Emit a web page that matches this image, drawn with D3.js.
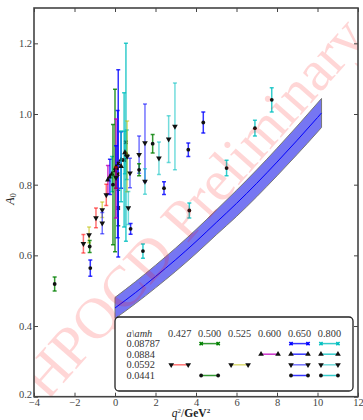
<!DOCTYPE html>
<html><head><meta charset="utf-8">
<script src="https://cdn.jsdelivr.net/npm/d3@7"></script>
<style>body{margin:0;background:#fff}svg{display:block}</style>
</head><body><svg id="c" width="363" height="420"></svg>
<script>
// ---------------- data ----------------
const xTicks = [-4, -2, 0, 2, 4, 6, 8, 10, 12];
const yTicks = [0.2, 0.4, 0.6, 0.8, 1.0, 1.2];
const latticeSpacings = ["0.08787", "0.0884", "0.0592", "0.0441"];
const heavyMasses = ["0.427", "0.500", "0.525", "0.600", "0.650", "0.800"];

// each entry: [q2, A0, error]
const pts_08787_500 = [[0.0, 0.84, 0.23], [0.16, 0.734, 0.05]];
const pts_08787_650 = [[0.16, 0.86, 0.265], [0.13, 0.83, 0.18]];
const pts_08787_800 = [[0.54, 0.92, 0.28], [0.45, 0.87, 0.19]];
const pts_0884_600 = [[-0.35, 0.814, 0.04], [0.05, 0.846, 0.14]];
const pts_0884_650 = [[-0.25, 0.822, 0.05], [0.05, 0.85, 0.06], [0.3, 0.87, 0.08]];
const pts_0884_800 = [[-0.15, 0.83, 0.05], [0.3, 0.852, 0.1], [0.49, 0.891, 0.06], [0.58, 0.885, 0.07]];
const pts_0592_427 = [[-1.56, 0.633, 0.026], [-0.94, 0.706, 0.028], [-0.43, 0.771, 0.03], [0.05, 0.82, 0.03]];
const pts_0592_525 = [[-1.28, 0.658, 0.022], [-0.63, 0.729, 0.022], [0.6, 0.88, 0.1]];
const pts_0592_650 = [[-0.63, 0.691, 0.03], [0.74, 0.833, 0.042], [1.19, 0.885, 0.053], [1.48, 0.918, 0.11]];
const pts_0592_800 = [[0.66, 0.734, 0.047], [1.48, 0.809, 0.036], [2.17, 0.875, 0.046], [2.65, 0.929, 0.066], [2.96, 0.965, 0.123]];
const pts_0441_500 = [[-2.98, 0.519, 0.02], [-1.25, 0.625, 0.017], [-0.1, 0.8, 0.17], [1.19, 0.842, 0.017], [1.86, 0.916, 0.026]];
const pts_0441_650 = [[-1.22, 0.564, 0.023], [0.77, 0.675, 0.015], [2.42, 0.79, 0.018], [3.62, 0.899, 0.019], [4.36, 0.976, 0.03]];
const pts_0441_800 = [[1.38, 0.612, 0.02], [3.67, 0.727, 0.021], [5.51, 0.847, 0.022], [6.91, 0.960, 0.022], [7.74, 1.04, 0.034]];

// fit band
const bandQ2  = [0, 1, 2, 3, 4, 5, 6, 7, 8, 9, 10, 10.2];
const bandMid = [0.451, 0.494, 0.540, 0.588, 0.639, 0.693, 0.747, 0.804, 0.864, 0.926, 0.990, 1.003];
const bandLo  = [0.421, 0.463, 0.508, 0.555, 0.605, 0.658, 0.710, 0.766, 0.825, 0.886, 0.949, 0.962];
const bandHi  = [0.481, 0.525, 0.572, 0.621, 0.673, 0.728, 0.784, 0.842, 0.903, 0.966, 1.031, 1.044];

// series registry (indices into latticeSpacings / heavyMasses)
const seriesDefs = [
  {a: 0, m: 1, pts: pts_08787_500}, {a: 0, m: 4, pts: pts_08787_650}, {a: 0, m: 5, pts: pts_08787_800},
  {a: 1, m: 3, pts: pts_0884_600},  {a: 1, m: 4, pts: pts_0884_650},  {a: 1, m: 5, pts: pts_0884_800},
  {a: 2, m: 0, pts: pts_0592_427},  {a: 2, m: 2, pts: pts_0592_525},  {a: 2, m: 4, pts: pts_0592_650}, {a: 2, m: 5, pts: pts_0592_800},
  {a: 3, m: 1, pts: pts_0441_500},  {a: 3, m: 4, pts: pts_0441_650},  {a: 3, m: 5, pts: pts_0441_800}
];

// ---------------- styles ----------------
const massColor = ["#ff0000", "#008000", "#bfbf00", "#bf00bf", "#0000ff", "#00bfbf"];
const markerType = ["x", "^", "v", "o"];
const barAlpha = [0.8, 0.8, 0.55, 0.8];

const svg = d3.select("#c");
const L = 34, R = 358, T = 8, B = 396.7;
const x = d3.scaleLinear().domain([-4, 12]).range([L, R]);
const y = d3.scaleLinear().domain([0.2, 1.3]).range([B, T]);
const serif = "'Liberation Serif','DejaVu Serif',serif";

svg.append("defs").append("clipPath").attr("id", "clip")
  .append("rect").attr("x", L).attr("y", T).attr("width", R - L).attr("height", B - T);

const plot = svg.append("g").attr("clip-path", "url(#clip)");

// band
const bandData = bandQ2.map((q, i) => ({q, lo: bandLo[i], hi: bandHi[i], mid: bandMid[i]}));
plot.append("path").datum(bandData)
  .attr("d", d3.area().x(d => x(d.q)).y0(d => y(d.lo)).y1(d => y(d.hi)).curve(d3.curveMonotoneX))
  .attr("fill", "#7676f2").attr("stroke", "#777").attr("stroke-width", 1);
plot.append("path").datum(bandData)
  .attr("d", d3.line().x(d => x(d.q)).y(d => y(d.mid)).curve(d3.curveMonotoneX))
  .attr("fill", "none").attr("stroke", "#0000ff").attr("stroke-width", 1);

function drawMarker(g, type, cx, cy, color, inLegend) {
  if (type === "o") {
    g.append("circle").attr("cx", cx).attr("cy", cy).attr("r", 1.9).attr("fill", "#111");
  } else if (type === "^" || type === "v") {
    g.append("path").attr("d", d3.symbol(d3.symbolTriangle, 14)())
      .attr("transform", `translate(${cx},${cy}) rotate(${type === "v" ? 180 : 0})`)
      .attr("fill", "#111");
  } else {
    g.append("path").attr("d", d3.symbol(d3.symbolCross, 12)())
      .attr("transform", `translate(${cx},${cy}) rotate(45)`)
      .attr("fill", inLegend ? color : "#111");
  }
}

// error bars and points
seriesDefs.forEach(s => {
  const col = massColor[s.m];
  const g = plot.append("g");
  s.pts.forEach(p => {
    const px = x(p[0]), y0 = y(p[1] - p[2]), y1 = y(p[1] + p[2]);
    const eb = g.append("g").attr("stroke", col).attr("stroke-opacity", barAlpha[s.a]).attr("stroke-width", 1.5);
    eb.append("line").attr("x1", px).attr("x2", px).attr("y1", y0).attr("y2", y1);
    eb.append("line").attr("x1", px - 2).attr("x2", px + 2).attr("y1", y0).attr("y2", y0);
    eb.append("line").attr("x1", px - 2).attr("x2", px + 2).attr("y1", y1).attr("y2", y1);
  });
  s.pts.forEach(p => drawMarker(g, markerType[s.a], x(p[0]), y(p[1]), col, false));
});

// watermark
plot.append("text")
  .attr("transform", "translate(47,402) rotate(-48.5)")
  .attr("font-family", serif).attr("font-size", 58)
  .attr("fill", "#ff0000").attr("fill-opacity", 0.16)
  .text("HPQCD Preliminary");

// axes
const axColor = "#444";
const gx = svg.append("g").attr("transform", `translate(0,${B})`)
  .call(d3.axisBottom(x).tickValues(xTicks).tickSizeInner(-4).tickSizeOuter(0).tickPadding(1.5)
    .tickFormat(d => d < 0 ? "\u2212" + Math.abs(d) : d));
const gy = svg.append("g").attr("transform", `translate(${L},0)`)
  .call(d3.axisLeft(y).tickValues(yTicks).tickSizeInner(-4).tickSizeOuter(0).tickPadding(2)
    .tickFormat(d3.format(".1f")));
const gt = svg.append("g").attr("transform", `translate(0,${T})`)
  .call(d3.axisTop(x).tickValues(xTicks).tickSizeInner(-4).tickSizeOuter(0).tickFormat(""));
const gr = svg.append("g").attr("transform", `translate(${R},0)`)
  .call(d3.axisRight(y).tickValues(yTicks).tickSizeInner(-4).tickSizeOuter(0).tickFormat(""));
[gx, gy, gt, gr].forEach(g => {
  g.select(".domain").remove();
  g.selectAll("line").attr("stroke", axColor).attr("stroke-width", 1);
  g.selectAll("text").attr("font-family", serif).attr("font-size", 10.5).attr("fill", "#444");
});
gy.selectAll("text").filter(d => d === 0.2).attr("dy", "0.1em");
svg.append("rect").attr("x", L).attr("y", T).attr("width", R - L).attr("height", B - T)
  .attr("fill", "none").attr("stroke", axColor).attr("stroke-width", 1.6);

// axis titles
const yl = svg.append("text").attr("transform", "translate(14,199) rotate(-90)")
  .attr("text-anchor", "middle").attr("font-family", serif).attr("font-size", 12).attr("fill", "#222");
yl.append("tspan").attr("font-style", "italic").text("A");
yl.append("tspan").attr("font-size", 8).attr("dy", 2).text("0");

const xl = svg.append("text").attr("x", 191).attr("y", 417)
  .attr("text-anchor", "middle").attr("font-family", serif).attr("font-size", 11.5).attr("fill", "#222");
xl.append("tspan").attr("font-style", "italic").text("q");
xl.append("tspan").attr("font-size", 7).attr("dy", -4).text("2");
xl.append("tspan").attr("dy", 4).text("/");
xl.append("tspan").attr("font-weight", "bold").text("GeV");
xl.append("tspan").attr("font-size", 7).attr("dy", -4).attr("font-weight", "bold").text("2");

// legend
const lg = svg.append("g");
lg.append("rect").attr("x", 115).attr("y", 317).attr("width", 238).attr("height", 74)
  .attr("rx", 4).attr("fill", "#fff").attr("stroke", "#222").attr("stroke-width", 1.3);
const colX = heavyMasses.map((_, i) => 179.7 + i * 29.95);
const rowY = [343.6, 354.2, 364.8, 375.5];
const lt = (xx, yy, t, anchor) => lg.append("text").attr("x", xx).attr("y", yy)
  .attr("text-anchor", anchor).attr("font-family", serif).attr("font-size", 10.3).attr("fill", "#333").text(t);
lg.append("text").attr("x", 126.5).attr("y", 336.5)
  .attr("font-family", serif).attr("font-size", 10.3).attr("font-style", "italic").attr("fill", "#333")
  .text("a\\amh");
heavyMasses.forEach((m, i) => lt(colX[i], 336.5, m, "middle"));
latticeSpacings.forEach((a, i) => lt(126.5, rowY[i] + 3.6, a, "start"));
seriesDefs.forEach(s => {
  const cx = colX[s.m], cy = rowY[s.a], col = massColor[s.m];
  lg.append("line").attr("x1", cx - 8.5).attr("x2", cx + 8.5).attr("y1", cy).attr("y2", cy)
    .attr("stroke", col).attr("stroke-opacity", barAlpha[s.a]).attr("stroke-width", 1.5);
  drawMarker(lg, markerType[s.a], cx - 8.5, cy, col, true);
  drawMarker(lg, markerType[s.a], cx + 8.5, cy, col, true);
});
</script></body></html>
